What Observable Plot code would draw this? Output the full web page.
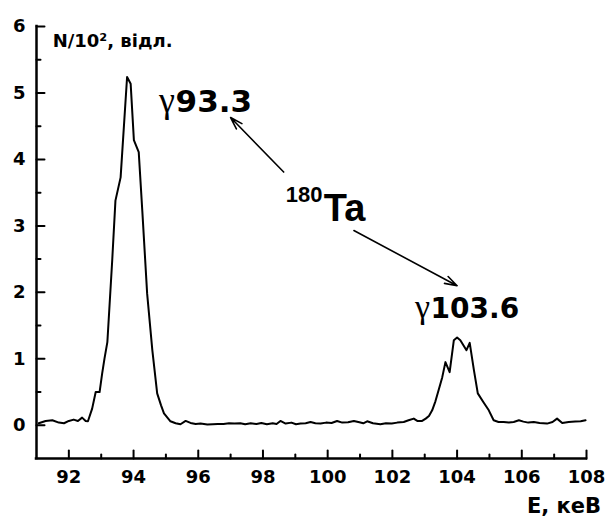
<!DOCTYPE html>
<html>
<head>
<meta charset="utf-8">
<script src="https://cdn.jsdelivr.net/npm/d3@7"></script>
<script src="https://cdn.jsdelivr.net/npm/@observablehq/plot@0.6"></script>
<style>
  html, body { margin: 0; padding: 0; background: #fff; }
</style>
</head>
<body>
<script>
// Energy (keV) and counts (N/10^2)
const energy = [
  91.07, 91.28, 91.49, 91.69, 91.85, 92.00, 92.15, 92.28, 92.41, 92.52,
  92.59, 92.72, 92.83, 92.95, 93.03, 93.10, 93.19, 93.34, 93.44, 93.60,
  93.80, 93.91, 94.01, 94.16, 94.27, 94.42, 94.58, 94.73, 94.85, 94.94,
  95.14, 95.30, 95.45, 95.61, 95.76, 95.92, 96.07, 96.28, 96.45, 96.60,
  96.78, 96.95, 97.12, 97.30, 97.45, 97.62, 97.80, 97.95, 98.12, 98.30,
  98.42, 98.54, 98.70, 98.88, 99.02, 99.16, 99.32, 99.47, 99.62, 99.78,
  99.95, 100.12, 100.29, 100.45, 100.63, 100.81, 100.98, 101.10, 101.22, 101.40,
  101.63, 101.80, 101.98, 102.15, 102.35, 102.50, 102.66, 102.77, 102.92, 103.03,
  103.13, 103.23, 103.33, 103.43, 103.54, 103.64, 103.77, 103.90, 104.00, 104.10,
  104.29, 104.39, 104.52, 104.64, 104.81, 104.98, 105.13, 105.28, 105.44, 105.60,
  105.75, 105.91, 106.05, 106.20, 106.37, 106.55, 106.78, 106.95, 107.09, 107.25,
  107.45, 107.65, 107.82, 107.97
];
const counts = [
  0.03, 0.065, 0.075, 0.04, 0.03, 0.065, 0.085, 0.065, 0.115, 0.065,
  0.06, 0.25, 0.50, 0.50, 0.78, 1.00, 1.25, 2.48, 3.38, 3.73,
  5.24, 5.14, 4.29, 4.11, 3.23, 1.98, 1.13, 0.48, 0.30, 0.18,
  0.06, 0.03, 0.015, 0.065, 0.035, 0.02, 0.025, 0.01, 0.015, 0.02,
  0.02, 0.03, 0.025, 0.03, 0.015, 0.03, 0.02, 0.035, 0.015, 0.03,
  0.02, 0.065, 0.025, 0.04, 0.015, 0.025, 0.03, 0.05, 0.03, 0.025,
  0.04, 0.035, 0.065, 0.04, 0.045, 0.065, 0.045, 0.03, 0.06, 0.03,
  0.015, 0.03, 0.025, 0.04, 0.05, 0.075, 0.10, 0.065, 0.065, 0.10,
  0.14, 0.225, 0.36, 0.53, 0.72, 0.95, 0.80, 1.28, 1.32, 1.28,
  1.13, 1.24, 0.83, 0.48, 0.35, 0.225, 0.075, 0.05, 0.05, 0.04,
  0.05, 0.075, 0.055, 0.04, 0.05, 0.035, 0.025, 0.05, 0.10, 0.035,
  0.05, 0.055, 0.06, 0.075
];

const xDomain = [91, 108];
const yDomain = [-0.5, 6];
const xMajor = [92, 94, 96, 98, 100, 102, 104, 106, 108];
const xMinor = [93, 95, 97, 99, 101, 103, 105, 107];
const yMajor = [0, 1, 2, 3, 4, 5, 6];
const yMinor = [0.5, 1.5, 2.5, 3.5, 4.5, 5.5];

const yLabel = "N/10², відл.";
const xLabel = "Е, кеВ";
const peak1 = {gamma: "γ", value: "93.3"};
const peak2 = {gamma: "γ", value: "103.6"};
const isotope = {mass: "180", symbol: "Ta"};
const arrows = [
  {x1: 98.64, y1: 3.81, x2: 97.0, y2: 4.63},
  {x1: 100.81, y1: 2.93, x2: 104.0, y2: 2.10}
];

const SANS = "DejaVu Sans";
const ARIAL = "Liberation Sans, Arial, sans-serif";
const SERIF = "Liberation Serif, Times New Roman, serif";

const idx = d3.range(energy.length);
// inward tick shape: a plain segment from the anchor along the vector direction
const tickShape = {draw(ctx, l) { ctx.moveTo(0, 0); ctx.lineTo(0, -l); }};

const chart = Plot.plot({
  width: 606,
  height: 517,
  marginLeft: 36,
  marginRight: 20,
  marginTop: 26,
  marginBottom: 59,
  style: {background: "#fff", color: "#000", fontFamily: SANS},
  x: {domain: xDomain, label: null},
  y: {domain: yDomain, label: null},
  marks: [
    // axis frame lines
    Plot.ruleX([xDomain[0]], {stroke: "#000", strokeWidth: 2.5, strokeLinecap: "square"}),
    Plot.ruleY([yDomain[0]], {stroke: "#000", strokeWidth: 2.5, strokeLinecap: "square"}),
    // inward ticks
    Plot.vector(xMajor, {x: d => d, y: yDomain[0], length: 8, rotate: 0, anchor: "start",
      shape: tickShape, stroke: "#000", strokeWidth: 2}),
    Plot.vector(xMinor, {x: d => d, y: yDomain[0], length: 4, rotate: 0, anchor: "start",
      shape: tickShape, stroke: "#000", strokeWidth: 2}),
    Plot.vector(yMajor, {x: xDomain[0], y: d => d, length: 8, rotate: 90, anchor: "start",
      shape: tickShape, stroke: "#000", strokeWidth: 2}),
    Plot.vector(yMinor, {x: xDomain[0], y: d => d, length: 4, rotate: 90, anchor: "start",
      shape: tickShape, stroke: "#000", strokeWidth: 2}),
    // tick labels
    Plot.axisX({ticks: xMajor, tickSize: 0, tickPadding: 12, tickFormat: d => String(d),
      fontSize: 18, fontWeight: "bold", fontFamily: SANS, label: null}),
    Plot.axisY({ticks: yMajor, tickSize: 0, tickPadding: 11, tickFormat: d => String(d),
      fontSize: 18, fontWeight: "bold", fontFamily: SANS, label: null}),
    // spectrum
    Plot.line(idx, {x: i => energy[i], y: i => counts[i], stroke: "#000", strokeWidth: 2, curve: "linear"}),
    // axis titles
    Plot.text([yLabel], {x: 91.5, y: 5.69, text: d => d, textAnchor: "start", lineAnchor: "bottom",
      fontSize: 18, fontWeight: "bold", fontFamily: SANS, fill: "#000"}),
    Plot.text([xLabel], {x: 108.45, y: -1.32, text: d => d, textAnchor: "end", lineAnchor: "bottom",
      fontSize: 21, fontWeight: "bold", fontFamily: SANS, fill: "#000"}),
    // peak labels
    Plot.text([peak1], {x: 95.28, y: 4.71, text: d => d.gamma, textAnchor: "end", lineAnchor: "bottom",
      fontSize: 36, fontFamily: SERIF, fill: "#000"}),
    Plot.text([peak1], {x: 95.30, y: 4.71, text: d => d.value, textAnchor: "start", lineAnchor: "bottom",
      fontSize: 31, fontWeight: "bold", fontFamily: SANS, fill: "#000"}),
    Plot.text([peak2], {x: 103.16, y: 1.61, text: d => d.gamma, textAnchor: "end", lineAnchor: "bottom",
      fontSize: 34, fontFamily: SERIF, fill: "#000"}),
    Plot.text([peak2], {x: 103.18, y: 1.61, text: d => d.value, textAnchor: "start", lineAnchor: "bottom",
      fontSize: 28, fontWeight: "bold", fontFamily: SANS, fill: "#000"}),
    // isotope label
    Plot.text([isotope], {x: 99.84, y: 3.36, text: d => d.mass, textAnchor: "end", lineAnchor: "bottom",
      fontSize: 22, fontWeight: "bold", fontFamily: ARIAL, fill: "#000"}),
    Plot.text([isotope], {x: 99.88, y: 3.08, text: d => d.symbol, textAnchor: "start", lineAnchor: "bottom",
      fontSize: 38, fontWeight: "bold", fontFamily: ARIAL, fill: "#000"}),
    // arrows
    Plot.arrow(arrows, {x1: "x1", y1: "y1", x2: "x2", y2: "y2", stroke: "#000", strokeWidth: 1.6,
      headLength: 12, headAngle: 35})
  ]
});
document.body.appendChild(chart);
</script>
</body>
</html>
